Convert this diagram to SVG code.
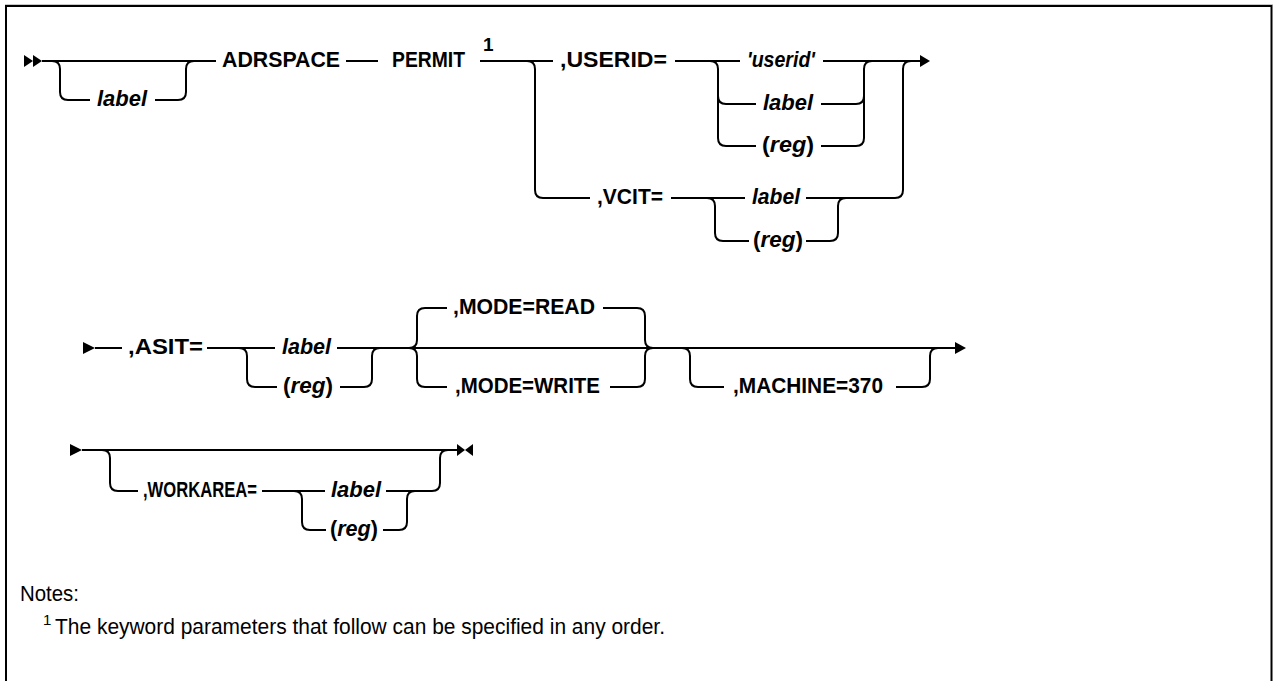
<svg xmlns="http://www.w3.org/2000/svg" width="1273" height="681" viewBox="0 0 1273 681">
<style>
.ln{fill:none;stroke:#000;stroke-width:2;}
.kw{font-family:"Liberation Sans",Arial,sans-serif;font-weight:bold;font-size:22px;fill:#000;}
.var{font-family:"Liberation Sans",Arial,sans-serif;font-weight:bold;font-style:italic;font-size:22px;fill:#000;}
.up{font-style:normal;}
.sup{font-family:"Liberation Sans",Arial,sans-serif;font-weight:bold;font-size:19px;fill:#000;}
.note{font-family:"Liberation Sans",Arial,sans-serif;font-size:22px;fill:#000;}
.nsup{font-family:"Liberation Sans",Arial,sans-serif;font-size:15px;fill:#000;}
.ah{fill:#000;}
</style>
<rect width="1273" height="681" fill="#fff"/>
<line x1="5" y1="4.5" x2="1273" y2="4.5" stroke="#c8c8c8" stroke-width="1"/>
<rect x="6" y="6" width="1265.5" height="720" fill="none" stroke="#000" stroke-width="2"/>

<g id="connectors">
  <!-- row 1 -->
  <polygon class="ah" points="24,55 33,61 24,67"/>
  <polygon class="ah" points="33,55 42,61 33,67"/>
  <path class="ln" d="M42,61 H216"/>
  <path class="ln" d="M52,61 q8,0 8,8 v23 q0,8 8,8 h22"/>
  <path class="ln" d="M155,100 h23 q8,0 8,-8 v-23 q0,-8 8,-8"/>
  <path class="ln" d="M346,61 H378"/>
  <path class="ln" d="M480,61 H553"/>
  <path class="ln" d="M527,61 q8,0 8,8 v121 q0,8 8,8 h47"/>
  <path class="ln" d="M675,61 H740"/>
  <path class="ln" d="M710,61 q8,0 8,8 v27 q0,8 8,8 h30"/>
  <path class="ln" d="M718,96 v42 q0,8 8,8 h30"/>
  <path class="ln" d="M823,61 H920"/>
  <path class="ln" d="M821,104 h35 q8,0 8,-8 v-27 q0,-8 8,-8"/>
  <path class="ln" d="M821,146 h35 q8,0 8,-8 v-42"/>
  <path class="ln" d="M671,198 H745"/>
  <path class="ln" d="M707,198 q8,0 8,8 v27 q0,8 8,8 h26"/>
  <path class="ln" d="M806,198 H895 q8,0 8,-8 V69 q0,-8 8,-8"/>
  <path class="ln" d="M806,241 h24 q8,0 8,-8 v-27 q0,-8 8,-8"/>
  <polygon class="ah" points="920,55 930,61 920,67"/>

  <!-- row 2 -->
  <polygon class="ah" points="83,342 95,348 83,354"/>
  <path class="ln" d="M95,348 H122"/>
  <path class="ln" d="M207,348 H275"/>
  <path class="ln" d="M337,348 H956"/>
  <path class="ln" d="M239,348 q8,0 8,8 v23 q0,8 8,8 h22"/>
  <path class="ln" d="M340,387 h24 q8,0 8,-8 v-23 q0,-8 8,-8"/>
  <path class="ln" d="M409,348 q8,0 8,-8 v-24 q0,-8 8,-8 h22"/>
  <path class="ln" d="M603,308 h34 q8,0 8,8 v24 q0,8 8,8"/>
  <path class="ln" d="M409,348 q8,0 8,8 v23 q0,8 8,8 h22"/>
  <path class="ln" d="M610,387 h27 q8,0 8,-8 v-23 q0,-8 8,-8"/>
  <path class="ln" d="M682,348 q8,0 8,8 v23 q0,8 8,8 h26"/>
  <path class="ln" d="M896,387 h26 q8,0 8,-8 v-23 q0,-8 8,-8"/>
  <polygon class="ah" points="955,342 966,348 955,354"/>

  <!-- row 3 -->
  <polygon class="ah" points="70,444 82,450 70,456"/>
  <path class="ln" d="M82,450 H458"/>
  <path class="ln" d="M102,450 q8,0 8,8 v25 q0,8 8,8 h20"/>
  <path class="ln" d="M262,491 H325"/>
  <path class="ln" d="M294,491 q8,0 8,8 v23 q0,8 8,8 h16"/>
  <path class="ln" d="M386,491 h46 q8,0 8,-8 v-25 q0,-8 8,-8"/>
  <path class="ln" d="M383,530 h16 q8,0 8,-8 v-23 q0,-8 8,-8"/>
  <polygon class="ah" points="457,444 465,450 457,456"/>
  <polygon class="ah" points="473,444 465,450 473,456"/>
</g>

<g id="n-label1"><text class="var" x="97" y="106" textLength="50" lengthAdjust="spacingAndGlyphs">label</text></g>
<g id="n-adrspace"><text class="kw" x="222" y="67" textLength="118" lengthAdjust="spacingAndGlyphs">ADRSPACE</text></g>
<g id="n-permit"><text class="kw" x="392" y="67" textLength="73" lengthAdjust="spacingAndGlyphs">PERMIT</text><text class="sup" x="483" y="51">1</text></g>
<g id="n-userid"><text class="kw" x="560" y="67" textLength="107" lengthAdjust="spacingAndGlyphs">,USERID=</text></g>
<g id="n-userid-val"><text class="var" x="747" y="67" textLength="68" lengthAdjust="spacingAndGlyphs">'userid'</text></g>
<g id="n-userid-label"><text class="var" x="763" y="110" textLength="50" lengthAdjust="spacingAndGlyphs">label</text></g>
<g id="n-userid-reg"><text class="var" x="762" y="152" textLength="52" lengthAdjust="spacingAndGlyphs"><tspan class="up">(</tspan>reg<tspan class="up">)</tspan></text></g>
<g id="n-vcit"><text class="kw" x="597" y="204" textLength="66" lengthAdjust="spacingAndGlyphs">,VCIT=</text></g>
<g id="n-vcit-label"><text class="var" x="752" y="204" textLength="48" lengthAdjust="spacingAndGlyphs">label</text></g>
<g id="n-vcit-reg"><text class="var" x="753" y="247" textLength="50" lengthAdjust="spacingAndGlyphs"><tspan class="up">(</tspan>reg<tspan class="up">)</tspan></text></g>

<g id="n-asit"><text class="kw" x="128" y="354" textLength="75" lengthAdjust="spacingAndGlyphs">,ASIT=</text></g>
<g id="n-asit-label"><text class="var" x="282" y="354" textLength="49" lengthAdjust="spacingAndGlyphs">label</text></g>
<g id="n-asit-reg"><text class="var" x="283" y="393" textLength="50" lengthAdjust="spacingAndGlyphs"><tspan class="up">(</tspan>reg<tspan class="up">)</tspan></text></g>
<g id="n-mode-read"><text class="kw" x="453" y="314" textLength="142" lengthAdjust="spacingAndGlyphs">,MODE=READ</text></g>
<g id="n-mode-write"><text class="kw" x="455" y="393" textLength="145" lengthAdjust="spacingAndGlyphs">,MODE=WRITE</text></g>
<g id="n-machine"><text class="kw" x="733" y="393" textLength="150" lengthAdjust="spacingAndGlyphs">,MACHINE=370</text></g>

<g id="n-workarea"><text class="kw" x="143" y="497" textLength="114" lengthAdjust="spacingAndGlyphs">,WORKAREA=</text></g>
<g id="n-workarea-label"><text class="var" x="331" y="497" textLength="50" lengthAdjust="spacingAndGlyphs">label</text></g>
<g id="n-workarea-reg"><text class="var" x="330" y="536" textLength="48" lengthAdjust="spacingAndGlyphs"><tspan class="up">(</tspan>reg<tspan class="up">)</tspan></text></g>

<g id="notes">
  <text class="note" x="20" y="601" textLength="59" lengthAdjust="spacingAndGlyphs">Notes:</text>
  <text class="nsup" x="43" y="625">1</text>
  <text class="note" x="55" y="634" textLength="610" lengthAdjust="spacingAndGlyphs">The keyword parameters that follow can be specified in any order.</text>
</g>
</svg>
